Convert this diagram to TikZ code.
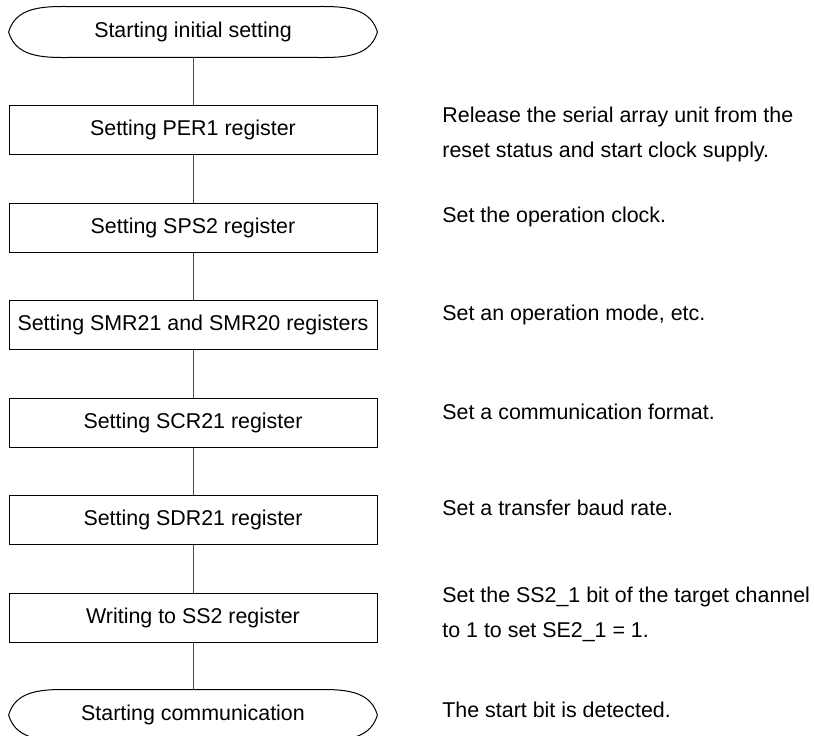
\documentclass[tikz,border=0pt]{standalone}
\usepackage{fontspec}
\setmainfont{Liberation Sans}

% outline of a start / end terminal around a named node
\newcommand\termoutline[1]{%
  \draw[line width=0.5pt] (#1.west) to[out=74,in=180] ([xshift=36pt]#1.north west)
    -- ([xshift=-36pt]#1.north east) to[out=0,in=106] (#1.east)
    to[out=-106,in=0] ([xshift=-36pt]#1.south east)
    -- ([xshift=36pt]#1.south west) to[out=180,in=-74] cycle;}

\begin{document}
\begin{tikzpicture}[x=0.5pt,y=-0.5pt,
  every node/.style={font=\fontsize{10.7}{17.5}\selectfont},
  stepbox/.style={draw, line width=0.5pt, minimum width=184pt, minimum height=24.5pt, inner sep=0pt},
  term/.style={minimum width=184pt, minimum height=25pt, inner sep=0pt},
  note/.style={anchor=base west, align=left, inner sep=0pt},
  link/.style={line width=0.5pt, black!70}]
  \useasboundingbox (0,0) rectangle (814,735);

  % Flow
  \node[term] (start) at (193,32) {Starting initial setting};
  \termoutline{start}
  \node[stepbox] (per) at (193,129.5) {Setting PER1 register};
  \node[stepbox] (sps) at (193,227.5) {Setting SPS2 register};
  \node[stepbox] (smr) at (193,325) {Setting SMR21 and SMR20 registers};
  \node[stepbox] (scr) at (193,422.5) {Setting SCR21 register};
  \node[stepbox] (sdr) at (193,520) {Setting SDR21 register};
  \node[stepbox] (ss) at (193,617.5) {Writing to SS2 register};
  \node[term] (comm) at (193,715) {Starting communication};
  \termoutline{comm}

  % Connectors
  \draw[link] (start) -- (per);
  \draw[link] (per) -- (sps);
  \draw[link] (sps) -- (smr);
  \draw[link] (smr) -- (scr);
  \draw[link] (scr) -- (sdr);
  \draw[link] (sdr) -- (ss);
  \draw[link] (ss) -- (comm);

  % Notes (base = last line)
  \node[note] (noteper) at (442,157.5) {Release the serial array unit from the\\reset status and start clock supply.};
  \node[note] (notesps) at (442,222.5) {Set the operation clock.};
  \node[note] (notesmr) at (442,320.5) {Set an operation mode, etc.};
  \node[note] (notescr) at (442,419.5) {Set a communication format.};
  \node[note] (notesdr) at (442,515.5) {Set a transfer baud rate.};
  \node[note] (notess) at (442,637.5) {Set the SS2\_1 bit of the target channel\\to 1 to set SE2\_1 = 1.};
  \node[note] (notecomm) at (442,717.5) {The start bit is detected.};
\end{tikzpicture}
\end{document}
